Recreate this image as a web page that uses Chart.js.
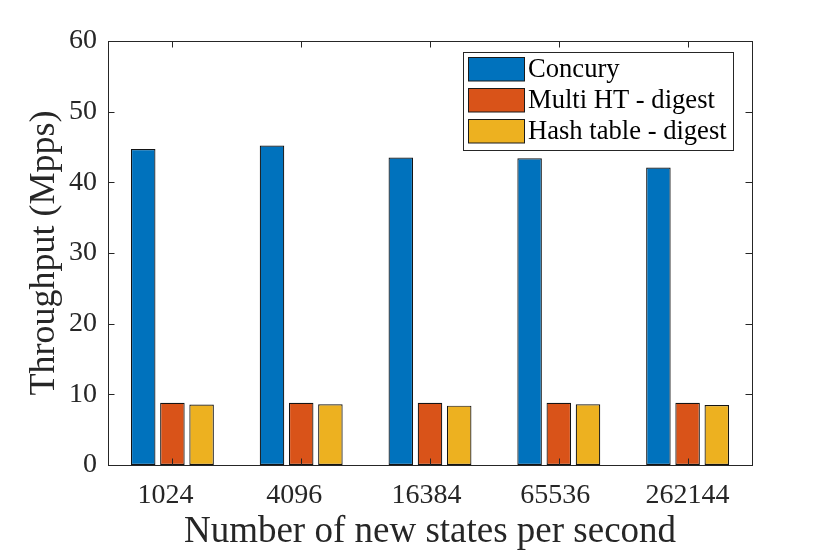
<!DOCTYPE html>
<html>
<head>
<meta charset="utf-8">
<script src="https://cdn.jsdelivr.net/npm/chart.js@4.4.1/dist/chart.umd.min.js"></script>
<style>
html,body{margin:0;padding:0;background:#fff;}
#wrap{width:830px;height:554px;}
</style>
</head>
<body>
<div id="wrap"><canvas id="c" width="830" height="554"></canvas></div>
<script>
const categories = ['1024', '4096', '16384', '65536', '262144'];
const seriesNames = ['Concury', 'Multi HT - digest', 'Hash table - digest'];
const concury = [44.7, 45.2, 43.5, 43.4, 42.1];
const multiHT = [8.8, 8.8, 8.8, 8.8, 8.8];
const hashTable = [8.55, 8.6, 8.4, 8.6, 8.5];
const yTicks = [0, 10, 20, 30, 40, 50, 60];
const colors = ['#0072BD', '#D95319', '#EDB120'];

const FONT = "'Liberation Serif', 'Times New Roman', serif";
const AXIS = '#262626';

const innerTicks = {
  id: 'innerTicks',
  afterDraw(chart) {
    const {ctx, chartArea: a, scales: {x, y}} = chart;
    ctx.save();
    ctx.strokeStyle = AXIS;
    ctx.lineWidth = 1;
    ctx.beginPath();
    const L = 6.5;
    yTicks.forEach(v => {
      const py = Math.round(y.getPixelForValue(v)) + 0.5;
      ctx.moveTo(a.left, py); ctx.lineTo(a.left + L, py);
      ctx.moveTo(a.right, py); ctx.lineTo(a.right - L, py);
    });
    categories.forEach((c, i) => {
      const px = Math.round(x.getPixelForTick(i)) + 0.5;
      ctx.moveTo(px, a.bottom); ctx.lineTo(px, a.bottom - L);
      ctx.moveTo(px, a.top); ctx.lineTo(px, a.top + L);
    });
    ctx.stroke();
    ctx.strokeRect(Math.round(a.left) + 0.5, Math.round(a.top) + 0.5, Math.round(a.right - a.left), Math.round(a.bottom - a.top));
    ctx.restore();
  }
};

const boxLegend = {
  id: 'boxLegend',
  afterDraw(chart) {
    const {ctx} = chart;
    const ds = chart.data.datasets;
    const bx = 463, by = 52, bw = 270, bh = 98;
    ctx.save();
    ctx.fillStyle = '#fff';
    ctx.fillRect(bx, by, bw, bh);
    ctx.strokeStyle = AXIS;
    ctx.lineWidth = 1;
    ctx.strokeRect(bx + 0.5, by + 0.5, bw, bh);
    ctx.font = "26.6px " + FONT;
    ctx.textBaseline = 'middle';
    ctx.textAlign = 'left';
    ds.forEach((d, i) => {
      const sy = 57.5 + i * 31;
      ctx.fillStyle = d.backgroundColor;
      ctx.fillRect(468.5, sy, 56, 23.5);
      ctx.strokeStyle = '#1a1a1a';
      ctx.strokeRect(468.5, sy, 56, 23.5);
      ctx.fillStyle = '#000';
      ctx.fillText(d.label, 528, sy + 12.5);
    });
    ctx.restore();
  }
};

const maxLen = Math.max(...categories.map(c => c.length));

new Chart(document.getElementById('c'), {
  type: 'bar',
  data: {
    labels: categories,
    datasets: [
      {label: seriesNames[0], data: concury, backgroundColor: colors[0]},
      {label: seriesNames[1], data: multiHT, backgroundColor: colors[1]},
      {label: seriesNames[2], data: hashTable, backgroundColor: colors[2]}
    ].map(d => Object.assign(d, {borderColor: '#141414', borderWidth: 1.2, borderSkipped: false,
      categoryPercentage: 0.68, barPercentage: 0.84}))
  },
  options: {
    responsive: false,
    animation: false,
    devicePixelRatio: 1,
    layout: {padding: {left: 0, right: 78, top: 41, bottom: 0}},
    plugins: {legend: {display: false}, tooltip: {enabled: false}},
    scales: {
      x: {
        grid: {display: false, drawTicks: false},
        border: {display: false},
        ticks: {color: '#262626', font: {family: FONT, size: 28}, padding: 14, maxRotation: 0,
          callback(v, i) { return categories[i].padEnd(maxLen, '\u00a0'); }},
        title: {display: true, text: 'Number of new states per second', color: '#262626',
          font: {family: FONT, size: 37, lineHeight: 1.2}, padding: {top: 0, bottom: 0}},
        afterFit(s) { s.height = 89; }
      },
      y: {
        min: 0, max: 60,
        grid: {display: false, drawTicks: false},
        border: {display: false},
        afterBuildTicks(s) { s.ticks = yTicks.map(v => ({value: v})); },
        ticks: {color: '#262626', font: {family: FONT, size: 28}, padding: 11},
        title: {display: true, text: 'Throughput (Mpps)', color: '#262626',
          font: {family: FONT, size: 36, lineHeight: 1.2}, padding: {top: 23, bottom: 0}},
        afterFit(s) { s.width = 108; }
      }
    }
  },
  plugins: [innerTicks, boxLegend]
});
</script>
</body>
</html>
